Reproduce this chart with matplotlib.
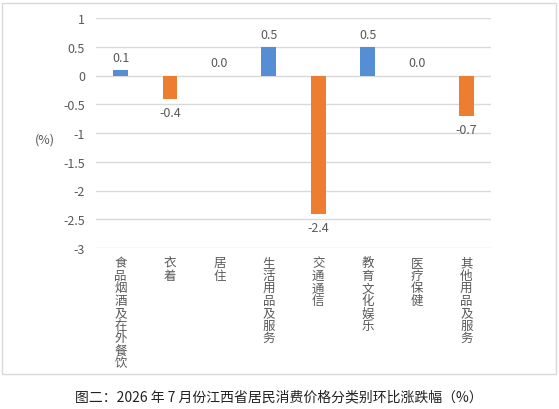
import matplotlib.pyplot as plt
from matplotlib.patches import Rectangle

plt.rcParams['font.family'] = ['Noto Sans CJK SC', 'DejaVu Sans']

categories = ['食品烟酒及在外餐饮', '衣着', '居住', '生活用品及服务',
              '交通通信', '教育文化娱乐', '医疗保健', '其他用品及服务']
values = [0.1, -0.4, 0.0, 0.5, -2.4, 0.5, 0.0, -0.7]
yticks = [1, 0.5, 0, -0.5, -1, -1.5, -2, -2.5, -3]
ytick_labels = ['1', '0.5', '0', '-0.5', '-1', '-1.5', '-2', '-2.5', '-3']
title = '图二：2026 年 7 月份江西省居民消费价格分类别环比涨跌幅（%）'

BLUE = '#558ED5'
ORANGE = '#ED7D31'
GRID = '#D9D9D9'
TEXT = '#595959'

W, H = 559, 410
fig = plt.figure(figsize=(W / 100, H / 100), dpi=100)

# outer chart border
fig.patches.append(Rectangle((2 / W, 1 - 375 / H), 554 / W, 371 / H,
                             transform=fig.transFigure, fill=False,
                             edgecolor=GRID, linewidth=1))

ax = fig.add_axes([96 / W, 1 - 249 / H, 395 / W, 230 / H])
x = list(range(len(categories)))
colors = [BLUE if v >= 0 else ORANGE for v in values]
ax.bar(x, values, width=0.3, color=colors, zorder=3)

ax.set_xlim(-0.5, len(categories) - 0.5)
ax.set_ylim(-3, 1)
ax.set_yticks(yticks)
ax.set_yticklabels(ytick_labels)
ax.yaxis.grid(True, color=GRID, linewidth=1, zorder=0)
ax.tick_params(axis='y', length=0, pad=8, labelsize=9, labelcolor=TEXT)
ax.tick_params(axis='x', length=0, pad=6, labelsize=9, labelcolor=TEXT)
ax.set_xticks(x)
ax.set_xticklabels(['\n'.join(c) for c in categories], va='top',
                   linespacing=0.95)
for s in ax.spines.values():
    s.set_visible(False)

for xi, v in zip(x, values):
    if v >= 0:
        ax.annotate(f'{v:.1f}', (xi, v), xytext=(0, 9), textcoords='offset points',
                    ha='center', va='center', fontsize=9, color=TEXT)
    else:
        ax.annotate(f'{v:.1f}', (xi, v), xytext=(0, -10), textcoords='offset points',
                    ha='center', va='center', fontsize=9, color=TEXT)

fig.text(45 / W, 1 - 140 / H, '(%)', ha='center', va='center',
         fontsize=9, color=TEXT)
fig.text(279 / W, 1 - 397 / H, title, ha='center', va='center',
         fontsize=10, color='#222222')

fig.savefig('out.png', dpi=100)
